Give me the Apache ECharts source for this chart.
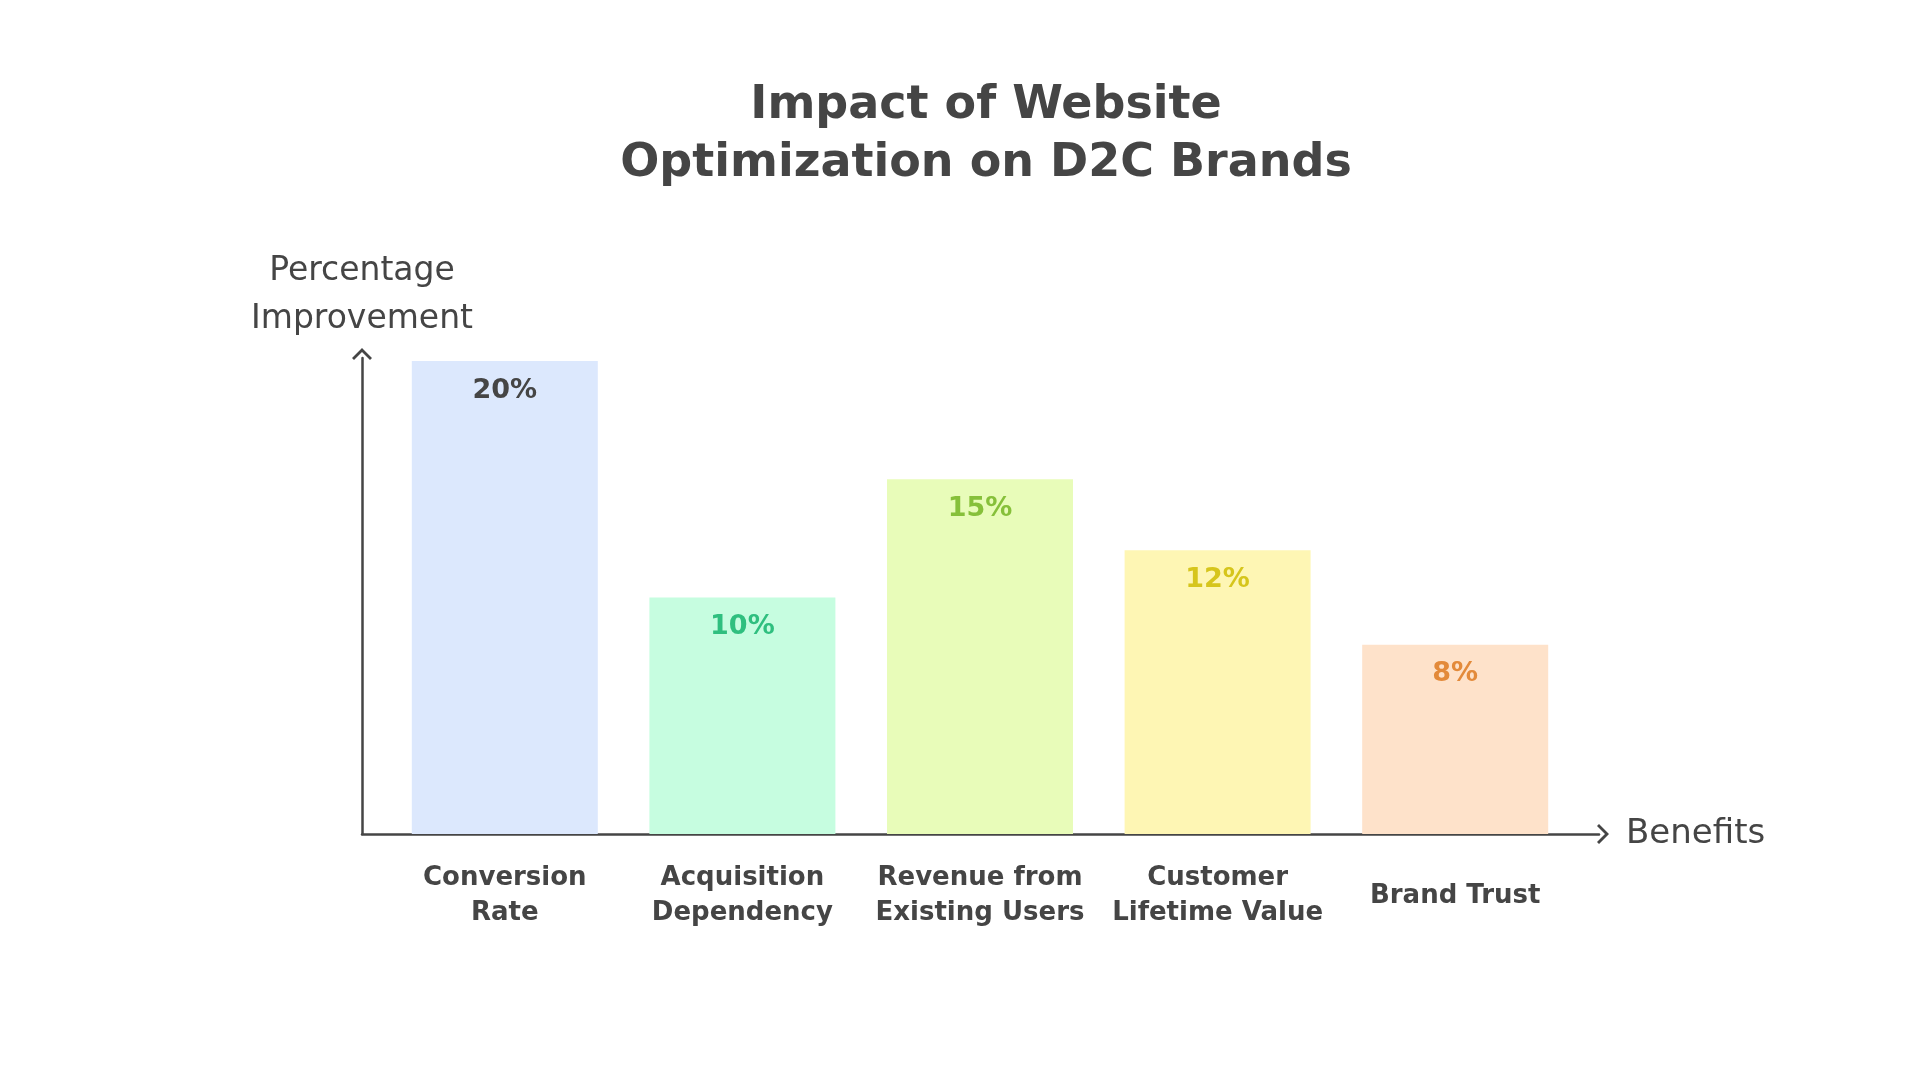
<!DOCTYPE html>
<html>
<head>
<meta charset="utf-8">
<script src="https://cdn.jsdelivr.net/npm/echarts@6/dist/echarts.min.js"></script>
<style>
  html, body { margin: 0; padding: 0; background: #fff; }
  #chart { width: 1920px; height: 1080px; }
</style>
</head>
<body>
<div id="chart"></div>
<script>
// data
const categories = [
  "Conversion\nRate",
  "Acquisition\nDependency",
  "Revenue from\nExisting Users",
  "Customer\nLifetime Value",
  "Brand Trust",
];
const improvement = [20, 10, 15, 12, 8];
const barColors = ["#dce8fd", "#c6fde0", "#e8fcb9", "#fef6b4", "#fee2ca"];
const labelColors = ["#454545", "#2fbf7f", "#86c03a", "#d6c51c", "#e38a3a"];

const font = "'DejaVu Sans', sans-serif";
const ink = "#454545";
// open chevron arrow head (tip at top, ECharts rotates it along the axis)
const chevron = "path://M10,0 L20,10 L18,12 L10,4 L2,12 L0,10 Z";

const chart = echarts.init(document.getElementById("chart"));

chart.setOption({
  backgroundColor: "#ffffff",
  animation: false,
  title: {
    text: "Impact of Website\nOptimization on D2C Brands",
    left: 981,
    textAlign: "center",
    top: 72,
    textStyle: {
      fontFamily: font,
      fontWeight: "bold",
      fontSize: 46,
      lineHeight: 58,
      color: ink,
    },
  },
  grid: [
    // axes frame
    { left: 362, right: 321, top: 358, bottom: 246 },
    // bars
    { left: 386, width: 1188, top: 361, bottom: 246 },
  ],
  xAxis: [
    {
      gridIndex: 0,
      type: "value",
      min: 0,
      max: 1,
      axisLine: {
        show: true,
        symbol: ["none", chevron],
        symbolSize: [20, 12],
        symbolOffset: [0, 4],
        lineStyle: { color: ink, width: 2.5 },
      },
      axisTick: { show: false },
      axisLabel: { show: false },
      splitLine: { show: false },
      name: "Benefits",
      nameLocation: "end",
      nameGap: 27,
      nameTextStyle: { fontFamily: font, fontSize: 34, color: ink, verticalAlign: "middle" },
    },
    {
      gridIndex: 1,
      type: "category",
      data: categories,
      axisLine: { show: false },
      axisTick: { show: false },
      axisLabel: {
        interval: 0,
        margin: 62,
        verticalAlign: "middle",
        fontFamily: font,
        fontWeight: "bold",
        fontSize: 26,
        lineHeight: 35,
        color: ink,
      },
    },
  ],
  yAxis: [
    {
      gridIndex: 0,
      type: "value",
      min: 0,
      max: 1,
      axisLine: {
        show: true,
        symbol: ["none", chevron],
        symbolSize: [20, 12],
        symbolOffset: [0, 4],
        lineStyle: { color: ink, width: 2.5 },
      },
      axisTick: { show: false },
      axisLabel: { show: false },
      splitLine: { show: false },
      name: "Percentage\nImprovement",
      nameLocation: "end",
      nameGap: 15,
      nameTextStyle: { fontFamily: font, fontSize: 33, lineHeight: 48, color: ink, align: "center" },
    },
    {
      gridIndex: 1,
      type: "value",
      min: 0,
      max: 20,
      show: false,
    },
  ],
  series: [
    {
      type: "bar",
      xAxisIndex: 1,
      yAxisIndex: 1,
      barWidth: 186,
      data: improvement.map((v, i) => ({
        value: v,
        itemStyle: { color: barColors[i] },
        label: { color: labelColors[i] },
      })),
      label: {
        show: true,
        position: "insideTop",
        distance: 16,
        formatter: "{c}%",
        fontFamily: font,
        fontWeight: "bold",
        fontSize: 27,
      },
    },
  ],
});
</script>
</body>
</html>
